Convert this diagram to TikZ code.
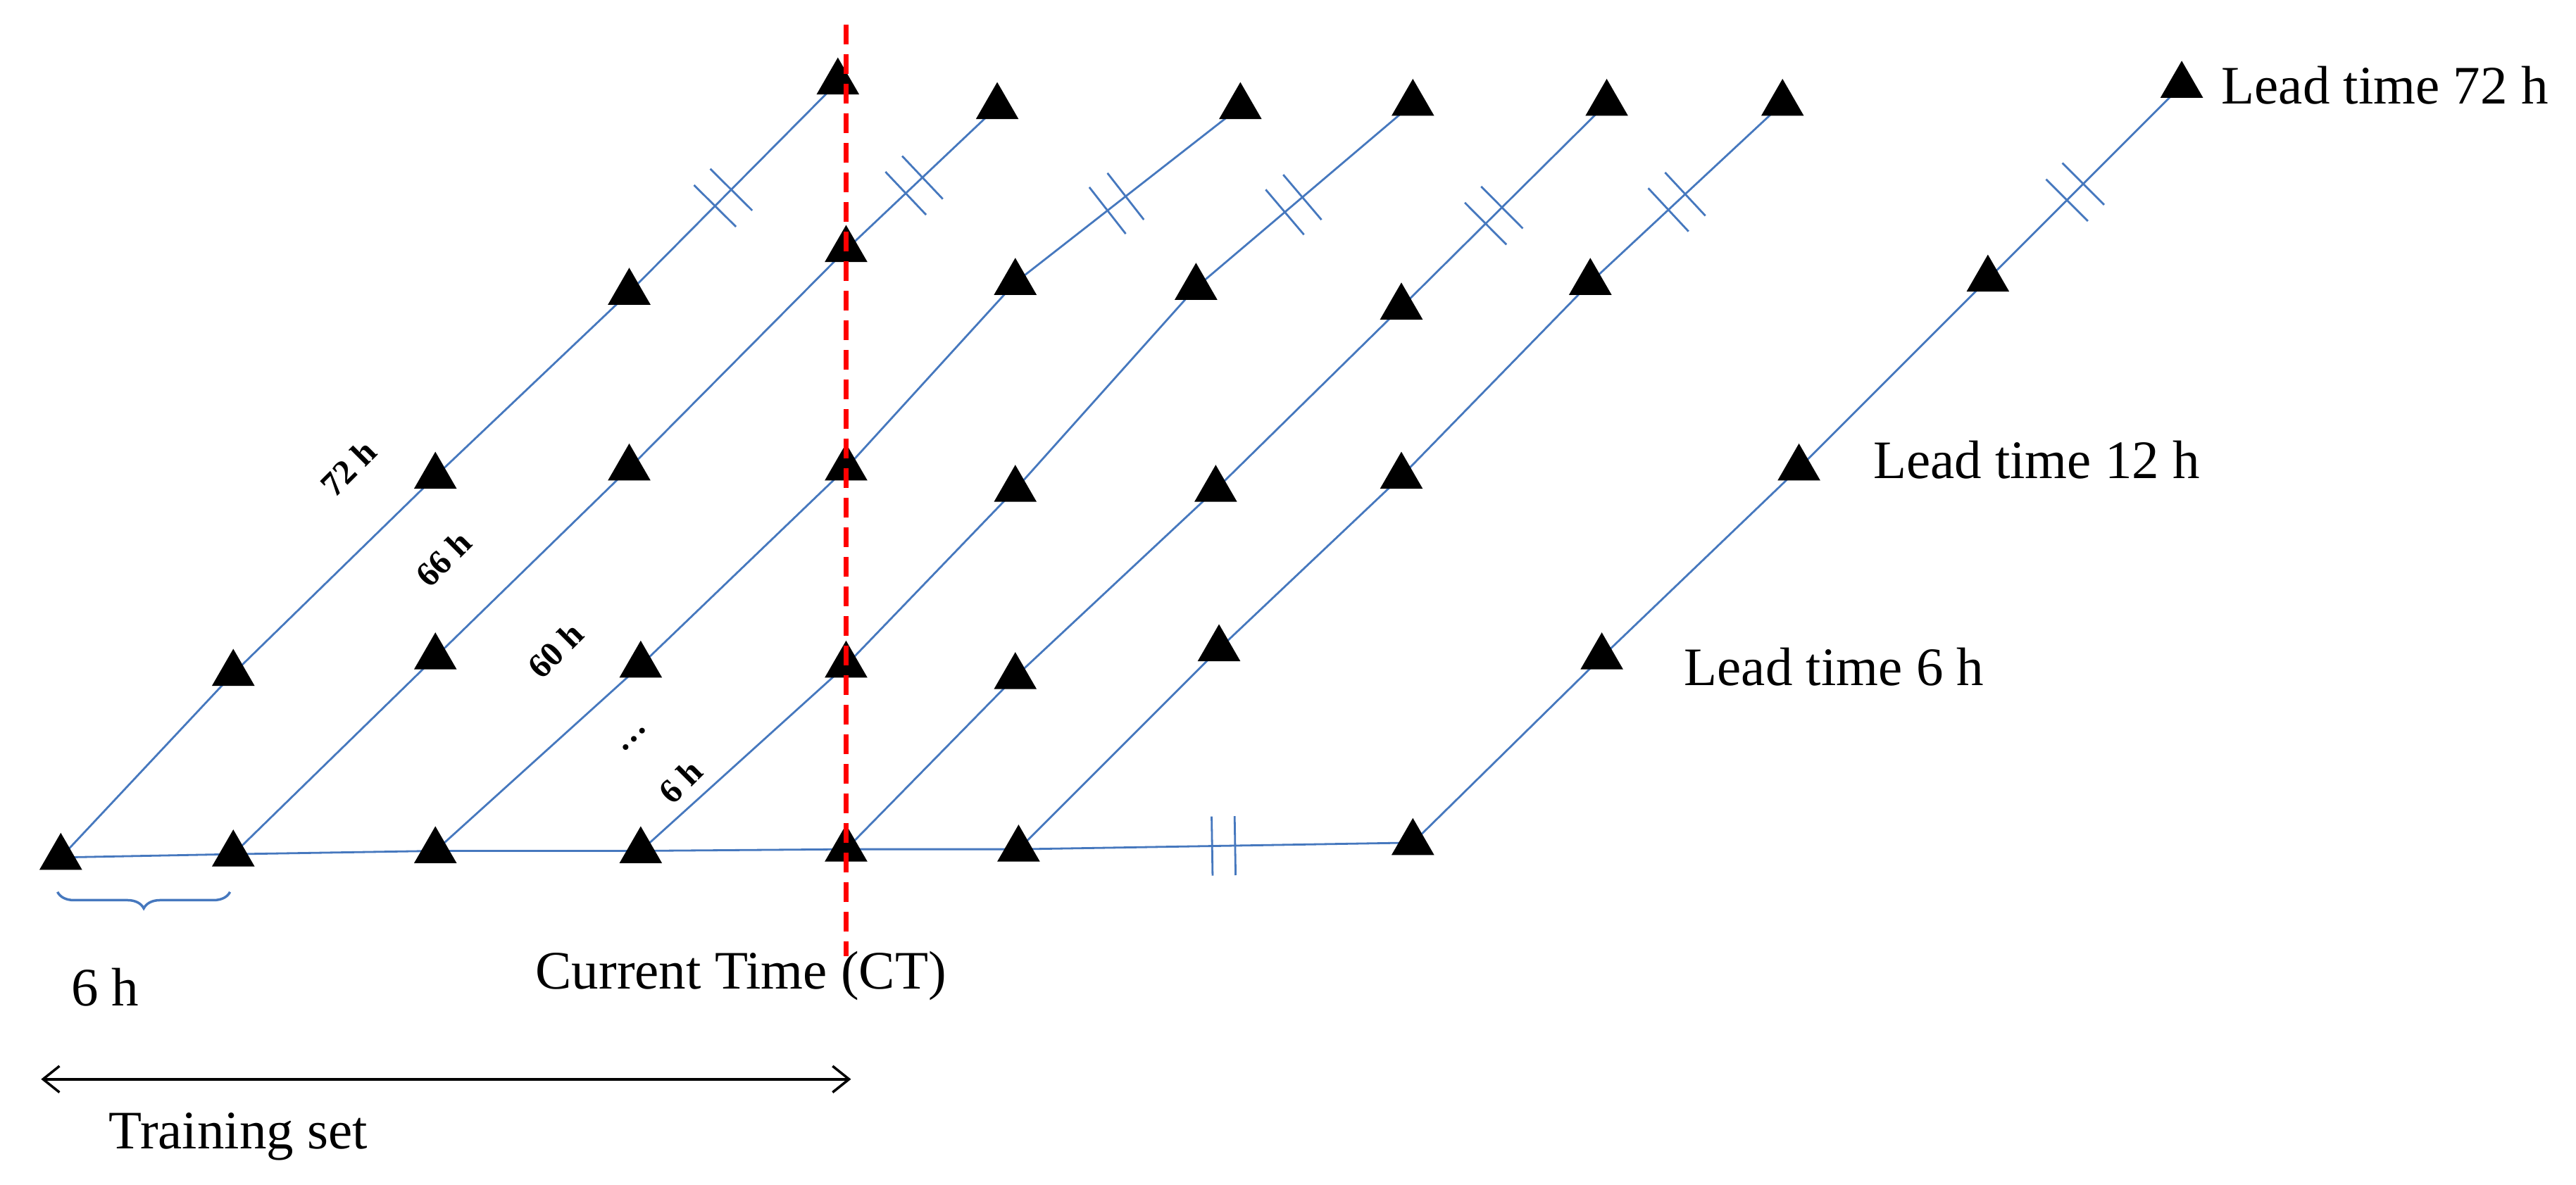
\documentclass[tikz,border=0pt]{standalone}
\usepackage{fontspec}
\setmainfont{Liberation Serif}
\usetikzlibrary{calc,shapes.geometric,decorations.pathreplacing,arrows.meta}
\definecolor{ln}{RGB}{70,120,190}
\tikzset{
  tri/.style={regular polygon,regular polygon sides=3,fill=black,inner sep=0pt,minimum size=30pt},
  bl/.style={draw=ln,line width=1.2pt},
  lab/.style={font=\fontsize{33}{40}\selectfont,anchor=west,inner sep=0pt},
  blab/.style={font=\bfseries\fontsize{21}{24}\selectfont,rotate=45,inner sep=0pt}
}
\newcommand{\brk}[3]{%
  \path ($(#1)!#3!(#2)$) coordinate (m);
  \draw[bl] ($(m)!7pt!(#2)$) -- ($($(m)!7pt!(#2)$)!18pt!90:(#2)$);
  \draw[bl] ($(m)!7pt!(#2)$) -- ($($(m)!7pt!(#2)$)!18pt!-90:(#2)$);
  \draw[bl] ($(m)!-7pt!(#2)$) -- ($($(m)!-7pt!(#2)$)!18pt!90:(#2)$);
  \draw[bl] ($(m)!-7pt!(#2)$) -- ($($(m)!-7pt!(#2)$)!18pt!-90:(#2)$);
}
\begin{document}
\begin{tikzpicture}[x=1pt,y=-1pt]
\useasboundingbox (0,0) rectangle (1568,721);
\foreach \n/\x/\y in {b1/37/522,b2/142/520,b3/265/518,b4/390/518,b5/515/517,b6/620/517,b7/860/513}
  \coordinate (\n) at (\x,\y);
\foreach \L/\a/\b/\c/\d/\e/\f/\g/\h in {
  l1/142/410/265/290/383/178/510/50,
  l2/265/400/383/285/515/152/607/65,
  l3/390/405/515/285/618/172/755/65,
  l4/515/405/618/298/728/175/860/63,
  l5/618/412/740/298/853/187/978/63,
  l6/742/395/853/290/968/172/1085/63,
  l7/975/400/1095/285/1210/170/1328/52}{
  \coordinate (\L2) at (\a,\b);
  \coordinate (\L3) at (\c,\d);
  \coordinate (\L4) at (\e,\f);
  \coordinate (\L5) at (\g,\h);
}
\foreach \L/\B in {l1/b1,l2/b2,l3/b3,l4/b4,l5/b5,l6/b6,l7/b7}{
  \draw[bl] (\B) -- (\L2) -- (\L3) -- (\L4) -- (\L5);
  \brk{\L4}{\L5}{0.45}
}
\draw[bl] (b1) -- (b2) -- (b3) -- (b4) -- (b5) -- (b6) -- (b7);
\brk{b6}{b7}{0.52}
\foreach \n in {b1,b2,b3,b4,b5,b6,b7}
  \node[tri] (t\n) at (\n) {};
\foreach \L in {l1,l2,l3,l4,l5,l6,l7}
  \foreach \k in {2,3,4,5}
    \node[tri] (t\L\k) at (\L\k) {};
\coordinate (rt) at (515,15);
\coordinate (rb) at (515,582);
\draw[red,line width=3pt,dash pattern=on 12pt off 6pt] (rt) -- (rb);
\node[lab] (lt72) at (1352,52) {Lead time 72 h};
\node[lab] (lt12) at (1140,280) {Lead time 12 h};
\node[lab] (lt6) at (1025,406) {Lead time 6 h};
\node[blab] (h72) at (212,285) {72 h};
\node[blab] (h66) at (270,340) {66 h};
\node[blab] (h60) at (338,396) {60 h};
\node[blab] (hdots) at (386,450) {\dots};
\node[blab] (h6) at (414,476) {6 h};
\node[lab,anchor=center] (ct) at (451,594) {Current Time (CT)};
\coordinate (br1) at (35,543);
\coordinate (br2) at (140,543);
\draw[ln,line width=1.5pt,decorate,decoration={brace,mirror,amplitude=10pt}] (br1) -- (br2);
\node[lab,anchor=center] (sixh) at (64,601) {6 h};
\coordinate (a1) at (25,657);
\coordinate (a2) at (518,657);
\draw[{Straight Barb[length=10pt,width=16pt]}-{Straight Barb[length=10pt,width=16pt]},line width=1.5pt] (a1) -- (a2);
\node[lab,anchor=center] (ts) at (145,692) {Training set};
\end{tikzpicture}
\end{document}
